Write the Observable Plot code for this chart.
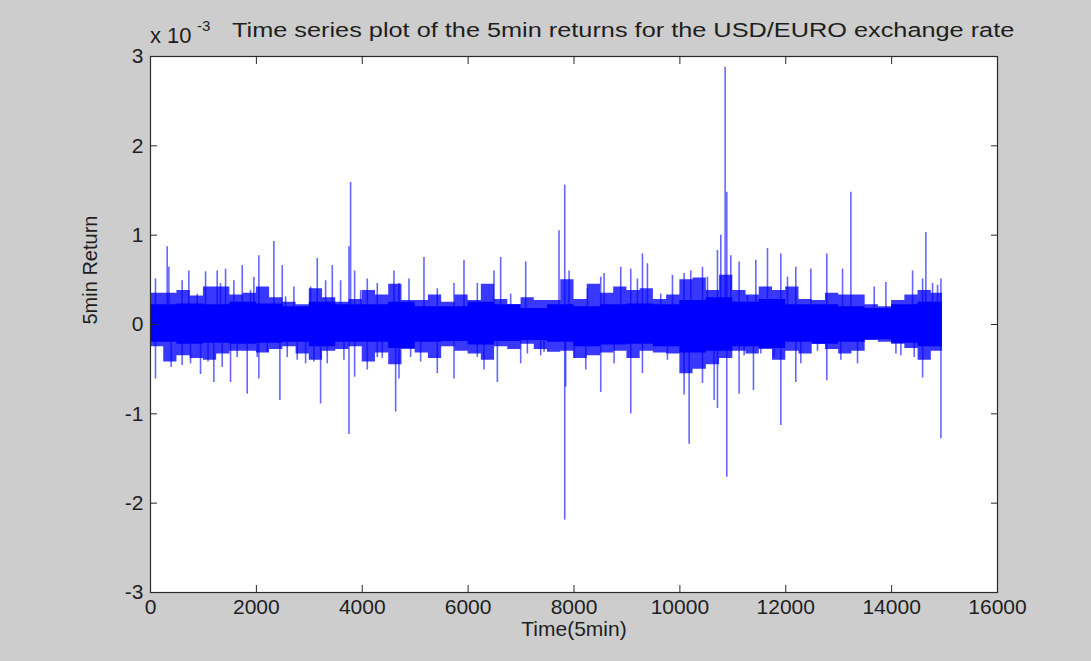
<!DOCTYPE html>
<html>
<head>
<meta charset="utf-8">
<script src="https://cdn.jsdelivr.net/npm/d3@7"></script>
<script src="https://cdn.jsdelivr.net/npm/@observablehq/plot@0.6"></script>
<style>
html, body { margin: 0; padding: 0; background: #cdcdcd; }
#wrap { width: 1091px; height: 661px; position: relative; overflow: hidden; font-family: "Liberation Sans", Arial, sans-serif; color: #1e1e1e; }
#title { height: 45px; position: relative; }
#title span { position: absolute; white-space: nowrap; line-height: normal; }
#exp { left: 150px; top: 23px; font-size: 22px; }
#sup { left: 197px; top: 17px; font-size: 15px; }
#main { left: 232px; top: 19px; font-size: 20px; transform: scaleX(1.265); transform-origin: left top; }
</style>
</head>
<body>
<div id="wrap">
  <div id="title"><span id="exp">x 10</span><span id="sup">-3</span><span id="main"></span></div>
  <div id="chart"></div>
</div>
<script>
// ---- data (values in units of 10^-3) ----
const titleText = "Time series plot of the 5min returns for the USD/EURO exchange rate";
const xLabel = "Time(5min)";
const yLabel = "5min Return";
const xTicks = [0, 2000, 4000, 6000, 8000, 10000, 12000, 14000, 16000];
const yTicks = [-3, -2, -1, 0, 1, 2, 3];

// solid core of the series, bins of 500 observations (bin starts)
const coreStart = [0, 500, 1000, 1500, 2000, 2500, 3000, 3500, 4000, 4500, 5000, 5500, 6000, 6500, 7000, 7500,
  8000, 8500, 9000, 9500, 10000, 10500, 11000, 11500, 12000, 12500, 13000, 13500, 14000, 14500];
const coreHi = [0.22, 0.23, 0.22, 0.25, 0.23, 0.20, 0.25, 0.22, 0.22, 0.25, 0.20, 0.20, 0.25, 0.22, 0.18,
  0.22, 0.20, 0.22, 0.23, 0.22, 0.27, 0.30, 0.25, 0.28, 0.22, 0.22, 0.20, 0.18, 0.22, 0.25];
const coreLo = [-0.20, -0.22, -0.21, -0.22, -0.21, -0.20, -0.25, -0.20, -0.20, -0.27, -0.20, -0.19, -0.23, -0.19, -0.18,
  -0.20, -0.25, -0.23, -0.22, -0.25, -0.32, -0.30, -0.25, -0.27, -0.20, -0.22, -0.20, -0.17, -0.21, -0.25];

// outer edge of the frequent fluctuations, bins of 250 observations
const envStart = [0, 250, 500, 750, 1000, 1250, 1500, 1750, 2000, 2250, 2500, 2750, 3000, 3250, 3500,
  3750, 4000, 4250, 4500, 4750, 5000, 5250, 5500, 5750, 6000, 6250, 6500, 6750, 7000, 7250,
  7500, 7750, 8000, 8250, 8500, 8750, 9000, 9250, 9500, 9750, 10000, 10250, 10500, 10750, 11000,
  11250, 11500, 11750, 12000, 12250, 12500, 12750, 13000, 13250, 13500, 13750, 14000, 14250, 14500, 14750];
const envHi = [0.35, 0.35, 0.38, 0.32, 0.42, 0.42, 0.33, 0.35, 0.42, 0.30, 0.25, 0.22, 0.40, 0.30, 0.25,
  0.28, 0.38, 0.33, 0.45, 0.27, 0.27, 0.33, 0.25, 0.33, 0.27, 0.45, 0.28, 0.22, 0.30, 0.27,
  0.27, 0.50, 0.28, 0.45, 0.35, 0.42, 0.38, 0.40, 0.28, 0.33, 0.50, 0.52, 0.38, 0.55, 0.38,
  0.33, 0.42, 0.38, 0.42, 0.28, 0.27, 0.35, 0.33, 0.33, 0.22, 0.20, 0.27, 0.33, 0.38, 0.35];
const envLo = [-0.25, -0.42, -0.35, -0.38, -0.40, -0.33, -0.30, -0.30, -0.32, -0.28, -0.25, -0.33, -0.40, -0.30, -0.28,
  -0.25, -0.42, -0.32, -0.45, -0.28, -0.32, -0.38, -0.25, -0.30, -0.33, -0.40, -0.25, -0.28, -0.22, -0.28,
  -0.31, -0.30, -0.38, -0.35, -0.32, -0.30, -0.38, -0.30, -0.32, -0.33, -0.55, -0.50, -0.45, -0.38, -0.30,
  -0.33, -0.28, -0.40, -0.30, -0.33, -0.22, -0.28, -0.33, -0.30, -0.18, -0.20, -0.22, -0.27, -0.40, -0.30];
const seriesEnd = 14960;

// individual spikes (time index, return)
const spikeX = [94, 94, 315, 347, 390, 598, 598, 724, 756, 882, 945, 1040, 1087, 1197, 1260, 1323, 1355, 1418, 1512, 1575,
  1638, 1733, 1827, 1890, 1953, 2016, 2047, 2047, 2205, 2331, 2444, 2489, 2552, 2583, 2709, 2772, 2930, 3024, 3087, 3150,
  3213, 3308, 3339, 3434, 3591, 3654, 3749, 3749, 3780,
  3856, 3856, 3970, 4095, 4095, 4284, 4284, 4378, 4599, 4631, 4694, 4694, 4883, 4914, 5103, 5166, 5418, 5418, 5733, 5733,
  5922, 6174, 6174, 6300, 6489, 6552, 6615, 6804, 6993, 7088, 7119, 7371,
  7434, 7717, 7825, 7825, 7843, 7907, 8001, 8222, 8253, 8505, 8505, 8568, 8757, 8883, 9072, 9072, 9198, 9293, 9293, 9387,
  9639, 9765, 9860, 10080, 10080, 10175, 10206, 10427, 10427, 10521, 10647, 10710, 10710, 10773, 10855, 10886, 10886,
  10962, 11119, 11119, 11214,
  11277, 11390, 11435, 11529, 11655, 11781, 11907, 11907, 12033, 12190, 12190, 12285, 12474, 12600, 12776, 12776, 13041,
  13073, 13230, 13356, 13671, 13892, 14081, 14175, 14396, 14427, 14585, 14585, 14647, 14773, 14868, 14931, 14931];
const spikeY = [0.51, -0.61, 0.87, 0.64, -0.48, 0.49, -0.46, 0.60, -0.44, 0.34, -0.56, 0.59, -0.42, -0.65, 0.60, 0.46, -0.48, 0.62, -0.65, 0.49,
  -0.37, 0.66, -0.78, 0.38, 0.53, -0.37, 0.77, -0.61, -0.31, 0.93, -0.85, 0.66, 0.31, -0.37, 0.42, -0.40, -0.44, 0.42, -0.42, 0.74,
  -0.89, 0.49, -0.44, 0.66, 0.49, -0.40, 0.87, -1.23, 1.59,
  0.60, -0.59, 0.38, 0.51, -0.51, 0.46, -0.37, -0.38, 0.60, -0.98, -0.61, 0.46, 0.51, -0.37, -0.42, 0.75, 0.40, -0.55, 0.46, -0.61,
  0.72, 0.46, -0.37, -0.51, 0.60, -0.65, 0.75, 0.34, -0.44, 0.70, -0.33, -0.35,
  -0.31, 1.05, 1.56, -2.19, -0.70, 0.60, -0.38, -0.51, 0.40, 0.53, -0.76, 0.57, -0.44, 0.64, 0.62, -1.00, 0.51, 0.79, -0.55, 0.68,
  0.34, -0.40, 0.55, 0.57, -0.79, -1.34, 0.60, 0.64, -0.66, 0.53, -0.85, 0.83, -0.94, 1.00, 2.88, 1.48, -1.71,
  0.77, 0.70, -0.78, -0.35,
  0.32, -0.74, 0.72, -0.33, 0.85, -0.37, 0.79, -1.13, 0.53, 0.64, -0.65, -0.44, 0.62, -0.30, 0.79, -0.63, -0.40,
  0.62, 1.48, -0.44, 0.42, 0.47, -0.33, -0.35, 0.60, -0.37, 0.51, -0.60, 1.03, 0.46, 0.44, 0.51, -1.28];

// ---- build tables for the library (step areas closed at the end of the series) ----
function stepTable(starts, hi, lo) {
  const t = starts.map((x, i) => ({x, hi: hi[i], lo: lo[i]}));
  t.push({x: seriesEnd, hi: hi[hi.length - 1], lo: lo[lo.length - 1]});
  return t;
}
const core = stepTable(coreStart, coreHi, coreLo);
const env = stepTable(envStart, envHi, envLo);
const spikes = spikeX.map((x, i) => ({x, y: spikeY[i]}));

document.getElementById("main").textContent = titleText;

const blue = "#0000ff";
const axisColor = "#2a2a2a";
const chart = Plot.plot({
  width: 1091,
  height: 616,
  marginTop: 11,
  marginBottom: 69,
  marginLeft: 150,
  marginRight: 94,
  style: {background: "transparent", fontFamily: "'Liberation Sans', Arial, sans-serif", fontSize: "21px", color: "#1e1e1e"},
  x: {domain: [0, 16000]},
  y: {domain: [-3, 3]},
  marks: [
    Plot.frame({fill: "white"}),
    Plot.areaY(env, {x: "x", y1: "lo", y2: "hi", curve: "step-after", fill: blue, fillOpacity: 0.78}),
    Plot.ruleX(spikes, {x: "x", y1: 0, y2: "y", stroke: blue, strokeOpacity: 0.6, strokeWidth: 1.6}),
    Plot.areaY(core, {x: "x", y1: "lo", y2: "hi", curve: "step-after", fill: blue}),
    Plot.axisX({ticks: xTicks, tickSize: -7, tickPadding: 14, tickFormat: d => String(d), label: null, stroke: axisColor}),
    Plot.axisX({anchor: "top", ticks: xTicks, tickSize: -7, tickFormat: () => "", label: null, stroke: axisColor}),
    Plot.axisY({ticks: yTicks, tickSize: -7, tickPadding: 14, tickFormat: d => String(d), label: null, stroke: axisColor}),
    Plot.axisY({anchor: "right", ticks: yTicks, tickSize: -7, tickFormat: () => "", label: null, stroke: axisColor}),
    Plot.frame({stroke: axisColor, strokeWidth: 1.2}),
    Plot.text([xLabel], {frameAnchor: "bottom", dy: 43, text: d => d, fontSize: 21}),
    Plot.text([yLabel], {frameAnchor: "left", dx: -60, rotate: -90, text: d => d, fontSize: 20})
  ]
});
document.getElementById("chart").appendChild(chart);
</script>
</body>
</html>
